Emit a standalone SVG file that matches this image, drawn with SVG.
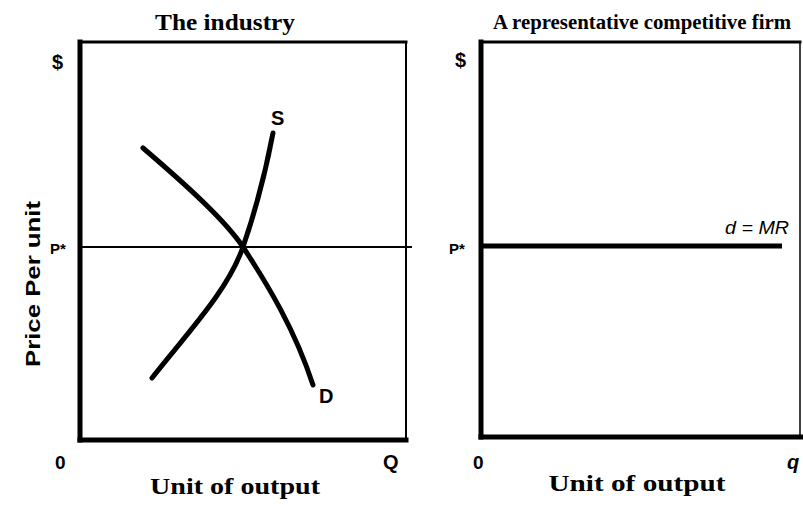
<svg xmlns="http://www.w3.org/2000/svg" width="803" height="505" viewBox="0 0 803 505">
<style>
.ttl{font-family:"Liberation Serif",serif;font-weight:bold;fill:#000}
.lbl{font-family:"Liberation Sans",Arial,sans-serif;font-weight:bold;fill:#000}
.it{font-family:"Liberation Sans",Arial,sans-serif;font-style:italic;fill:#000}
.ax{font-family:"Liberation Serif",serif;font-weight:bold;fill:#000}
.frame{fill:none;stroke:#000;stroke-linecap:square}
.curve{fill:none;stroke:#000;stroke-width:5;stroke-linecap:round}
</style>
<rect width="803" height="505" fill="#fff"/>
<g id="industry">
<text class="ttl" x="225" y="30" text-anchor="middle" textLength="140" lengthAdjust="spacingAndGlyphs" style="font-size:23px">The industry</text>
<line class="frame" x1="80" y1="42" x2="406" y2="42" stroke-width="3"/>
<line class="frame" x1="406" y1="42" x2="406" y2="440" stroke-width="2"/>
<line class="frame" x1="80" y1="42" x2="80" y2="440" stroke-width="5"/>
<line class="frame" x1="80" y1="440" x2="406" y2="440" stroke-width="5"/>
<text class="lbl" x="52" y="69" style="font-size:20px">$</text>
<text class="lbl" x="50" y="254" style="font-size:15px">P*</text>
<text class="lbl" x="55" y="469" style="font-size:19px">0</text>
<text class="lbl" x="383" y="469" style="font-size:20px">Q</text>
<text class="lbl" transform="translate(40,284) rotate(-90)" text-anchor="middle" textLength="166" lengthAdjust="spacingAndGlyphs" style="font-size:21px">Price Per unit</text>
<text class="ax" x="235" y="494" text-anchor="middle" textLength="170" lengthAdjust="spacingAndGlyphs" style="font-size:23px">Unit of output</text>
<text class="lbl" x="271" y="125" style="font-size:20px">S</text>
<text class="lbl" x="319" y="403" style="font-size:20px">D</text>
</g>
<g id="firm">
<text class="ttl" x="642" y="29" text-anchor="middle" textLength="298" lengthAdjust="spacingAndGlyphs" style="font-size:20px">A representative competitive firm</text>
<line class="frame" x1="481" y1="42" x2="800" y2="42" stroke-width="3"/>
<line class="frame" x1="800" y1="42" x2="800" y2="437" stroke-width="1.5"/>
<line class="frame" x1="481" y1="42" x2="481" y2="437" stroke-width="5"/>
<line class="frame" x1="481" y1="437" x2="803" y2="437" stroke-width="5"/>
<text class="lbl" x="455" y="67" style="font-size:20px">$</text>
<text class="lbl" x="449" y="254" style="font-size:15px">P*</text>
<text class="lbl" x="473" y="469" style="font-size:19px">0</text>
<text class="it" x="787" y="469" style="font-size:20px;font-weight:bold">q</text>
<text class="ax" x="637" y="491" text-anchor="middle" textLength="177" lengthAdjust="spacingAndGlyphs" style="font-size:23px">Unit of output</text>
<text class="it" x="725" y="234" textLength="64" lengthAdjust="spacingAndGlyphs" style="font-size:18px">d = MR</text>
</g>
<g id="connectors">
<line x1="82" y1="247" x2="412" y2="247" stroke="#000" stroke-width="2"/>
<path class="curve" d="M143,148 C185,184 225,220 243,247 C268,285 295,330 313,385"/>
<path class="curve" d="M152,378 C190,330 228,290 243,247 C254,215 266,170 273,133"/>
<line x1="483" y1="246" x2="782" y2="246" stroke="#000" stroke-width="5"/>
</g>
</svg>
